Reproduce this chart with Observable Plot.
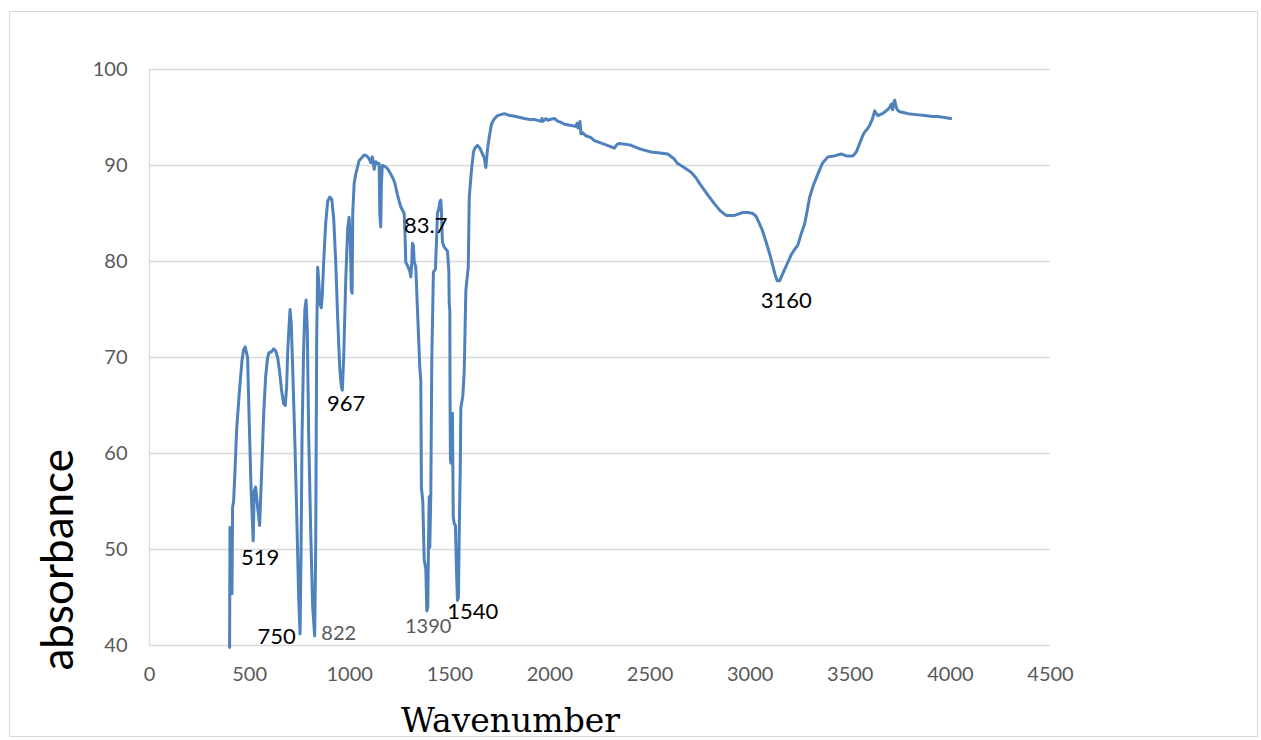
<!DOCTYPE html>
<html>
<head>
<meta charset="utf-8">
<script src="https://cdn.jsdelivr.net/npm/d3@7"></script>
<script src="https://cdn.jsdelivr.net/npm/@observablehq/plot@0.6"></script>
<style>
  html, body { margin: 0; padding: 0; background: #ffffff; }
  #wrap { position: relative; width: 1261px; height: 740px; overflow: hidden; background: #fff; }
  #border { position: absolute; left: 9px; top: 11px; width: 1247px; height: 724px; border: 1px solid #d9d9d9; pointer-events: none; }
</style>
</head>
<body>
<div id="wrap"><div id="border"></div></div>
<script>
// ---- data ----
const wavenumber = [
  400,402,407,412,415,420,427,435,448,462,470,478,490,498,507,518,523,530,535,540,550,560,570,580,590,597,610,620,630,640,650,660,670,678,685,690,695,702,708,715,725,735,745,752,757,762,770,776,782,788,795,805,815,825,830,835,840,845,852,858,863,870,880,890,900,910,920,930,940,950,958,963,970,980,990,997,1003,1008,1012,1015,1022,1030,1047,1060,1072,1085,1097,1105,1113,1118,1122,1130,1140,1147,1150,1155,1158,1163,1175,1188,1200,1213,1225,1238,1248,1255,1272,1276,1280,1290,1300,1305,1310,1313,1318,1322,1330,1338,1350,1355,1358,1365,1372,1380,1385,1390,1393,1397,1400,1405,1410,1418,1428,1435,1438,1445,1450,1455,1458,1463,1472,1488,1495,1497,1500,1501,1503,1506,1510,1513,1515,1517,1522,1528,1533,1538,1543,1547,1552,1555,1565,1572,1580,1592,1597,1608,1618,1625,1638,1650,1663,1672,1680,1686,1690,1697,1708,1720,1738,1755,1772,1800,1830,1872,1900,1920,1940,1955,1960,1965,1980,1990,2000,2022,2040,2055,2072,2100,2122,2130,2135,2140,2150,2155,2163,2180,2205,2222,2260,2300,2322,2335,2347,2380,2405,2440,2470,2505,2550,2588,2620,2638,2670,2705,2730,2755,2790,2822,2850,2880,2922,2963,2990,3013,3030,3045,3060,3080,3100,3115,3125,3135,3148,3160,3175,3190,3205,3220,3238,3255,3272,3285,3297,3315,3338,3360,3388,3420,3455,3480,3513,3530,3547,3560,3572,3585,3597,3610,3622,3630,3638,3660,3680,3695,3705,3712,3718,3722,3728,3735,3747,3770,3788,3830,3872,3910,3938,3970,4002
];
const absorbance = [
  39.8,52.3,46,45.4,54.4,55,58.2,62.4,66.2,69.7,70.8,71.1,70,63.4,56.5,50.9,56.1,56.5,55.5,54.4,52.5,58,64,68,70,70.5,70.6,70.9,70.7,70,68.5,66.5,65.2,65,67,70.5,72.5,75,73.5,69,62,54,45,41.2,50,62,71,75,76,73,62,52,44,41,50,72,79.4,78,75.5,75.2,76.5,80,84,86.3,86.7,86.5,84.5,80,74,69,67,66.6,70,78,83.5,84.6,82,77,76.7,85,88.1,89.1,90.5,90.8,91.1,91,90.7,90.3,90.9,90.2,89.6,90.4,90.2,90.2,85,83.6,88,90,89.9,89.7,89.3,88.8,88.2,87,86.2,85.7,85,83,79.9,79.5,79,78.4,80,81.9,81.7,80,79.4,75.2,69,67.6,56.5,55,48.9,48,43.6,44,50,55.5,50.2,55.8,70,78.9,79.2,83,85,85.5,86.2,86.4,85.3,82,81.5,81.1,79,75.6,74.9,65.9,59.3,59,64,64.2,59,53.4,52.7,52.5,48,44.7,45,52,58.2,64.8,66,68.6,77,79.4,86.7,89.5,91.4,91.8,92.1,91.8,91.2,90.8,89.8,91.2,92,93,94.3,94.8,95.2,95.3,95.4,95.2,95.1,94.9,94.8,94.8,94.7,94.6,94.9,94.6,94.9,94.7,94.8,94.9,94.6,94.5,94.3,94.2,94.1,94.1,94.4,93.9,94.6,93.3,93.4,93.1,92.9,92.6,92.3,92,91.8,92.2,92.3,92.2,92.1,91.8,91.6,91.4,91.3,91.2,90.7,90.2,89.8,89.3,88.7,87.9,86.9,86,85.3,84.8,84.8,85.1,85.1,85,84.7,84,83.3,82,80.6,79.4,78.6,78,78,78.6,79.3,80,80.7,81.2,81.7,82.9,83.9,85.3,86.7,87.9,89.1,90.2,90.9,91,91.2,91,91,91.4,92.3,93,93.5,93.8,94.2,94.8,95.7,95.4,95.2,95.4,95.7,96,96.4,95.8,96.6,96.8,96.2,95.8,95.6,95.5,95.4,95.3,95.2,95.1,95.1,95,94.9
];
const xTicks = [0, 500, 1000, 1500, 2000, 2500, 3000, 3500, 4000, 4500];
const yTicks = [40, 50, 60, 70, 80, 90, 100];

// peak annotations (dark)
const peakText = ["519", "750", "967", "83.7", "1540", "3160"];
const peakX    = [552, 635, 982, 1380, 1615, 3180];
const peakY    = [49.1, 40.9, 65.2, 83.75, 43.5, 75.9];
// peak annotations (grey)
const peakText2 = ["822", "1390"];
const peakX2    = [945, 1392];
const peakY2    = [41.2, 42.0];

const xTitle = "Wavenumber";
const yTitle = "absorbance";

// ---- build ----
const spectrum = wavenumber.map((w, i) => ({w, a: absorbance[i]}));
const peaks = peakText.map((t, i) => ({t, x: peakX[i], y: peakY[i]}));
const peaks2 = peakText2.map((t, i) => ({t, x: peakX2[i], y: peakY2[i]}));

const chart = Plot.plot({
  width: 1261,
  height: 740,
  marginLeft: 149,
  marginRight: 211,
  marginTop: 69,
  marginBottom: 95,
  style: {background: "transparent", fontFamily: "Lato, 'Open Sans', sans-serif", fontSize: "20px", color: "#595959", overflow: "visible"},
  x: {type: "linear", domain: [0, 4500]},
  y: {type: "linear", domain: [40, 100]},
  marks: [
    Plot.ruleY(yTicks, {stroke: "#d9d9d9", strokeWidth: 1.3}),
    Plot.ruleX([0], {stroke: "#d9d9d9", strokeWidth: 1.3}),
    Plot.axisX({ticks: xTicks, tickSize: 0, tickPadding: 21, tickFormat: d => String(d), label: null, fontSize: 20, fill: "#595959"}),
    Plot.axisY({ticks: yTicks, tickSize: 0, tickPadding: 22, tickFormat: d => String(d), label: null, fontSize: 20, fill: "#595959"}),
    Plot.line(spectrum, {x: "w", y: "a", stroke: "#4f81bd", strokeWidth: 3, strokeLinejoin: "round", strokeLinecap: "round"}),
    Plot.text(peaks, {x: "x", y: "y", text: "t", fill: "#000000", fontSize: 22}),
    Plot.text(peaks2, {x: "x", y: "y", text: "t", fill: "#595959", fontSize: 20}),
    Plot.text([xTitle], {frameAnchor: "bottom", text: d => d, dx: -89.5, dy: 86, fill: "#000000", fontSize: 33, fontFamily: "'DejaVu Serif', 'Liberation Serif', serif"}),
    Plot.text([yTitle], {frameAnchor: "bottom-left", text: d => d, rotate: -90, textAnchor: "start", dx: -77, dy: 25, fill: "#000000", fontSize: 44, fontFamily: "Lato, sans-serif"})
  ]
});
document.getElementById("wrap").prepend(chart);
</script>
</body>
</html>
